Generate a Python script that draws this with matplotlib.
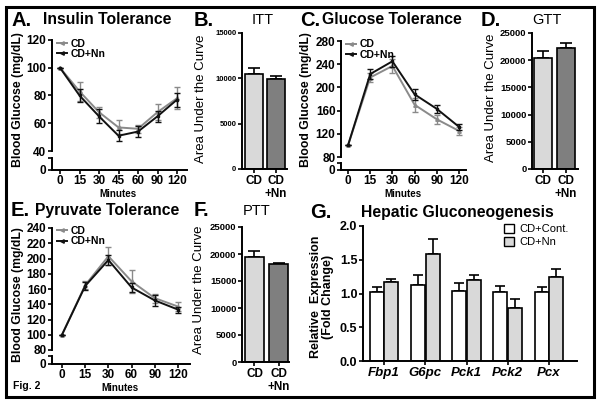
import matplotlib
matplotlib.use("Agg")
import matplotlib.pyplot as plt
from matplotlib.patches import Rectangle
from matplotlib.lines import Line2D
from matplotlib.patches import Patch

plt.rcParams['font.family'] = ['Liberation Sans', 'DejaVu Sans']

# ---------------- data ----------------
itt_minutes = ["0", "15", "30", "45", "60", "90", "120"]
itt_cd = [100, 83, 68, 57, 56, 68, 78]
itt_cd_err = [0, 7, 4, 5, 3, 6, 8]
itt_nn = [100, 80, 65, 51, 54, 65, 77]
itt_nn_err = [0, 5, 5, 4, 4, 4, 5]

gtt_minutes = ["0", "15", "30", "60", "90", "120"]
gtt_cd = [100, 217, 237, 170, 145, 125]
gtt_cd_err = [0, 8, 12, 12, 8, 7]
gtt_nn = [100, 223, 245, 188, 163, 132]
gtt_nn_err = [0, 9, 10, 10, 7, 5]

ptt_minutes = ["0", "15", "30", "60", "90", "120"]
ptt_cd = [100, 165, 203, 170, 148, 137]
ptt_cd_err = [0, 5, 12, 15, 6, 6]
ptt_nn = [100, 164, 198, 162, 145, 133]
ptt_nn_err = [0, 5, 6, 6, 7, 4]

bar_groups = ["CD", "CD\n+Nn"]
itt_auc = [10500, 9900]
itt_auc_err = [600, 400]
gtt_auc = [20400, 22200]
gtt_auc_err = [1200, 1000]
ptt_auc = [19400, 18200]
ptt_auc_err = [1200, 200]

genes = ["Fbp1", "G6pc", "Pck1", "Pck2", "Pcx"]
gene_cont = [1.02, 1.12, 1.04, 1.02, 1.02]
gene_cont_err = [0.08, 0.16, 0.11, 0.09, 0.08]
gene_nn = [1.17, 1.59, 1.20, 0.79, 1.24]
gene_nn_err = [0.05, 0.22, 0.07, 0.13, 0.13]

# ---------------- figure ----------------
W, H = 601, 404
fig = plt.figure(figsize=(W / 100, H / 100), dpi=100)

def ax_px(x0, y0, x1, y1):
    return fig.add_axes([x0 / W, 1 - y1 / H, (x1 - x0) / W, (y1 - y0) / H])

def ftext(x, y, s, **kw):
    fig.text(x / W, 1 - y / H, s, **kw)

GRAY = "#8a8a8a"
BLACK = "#111111"
BOLD = "bold"
LETTER_FS = 14.5
TITLE_FS = 11.3

def style(ax, xfs=8.5, yfs=8.5):
    for s in ("top", "right"):
        ax.spines[s].set_visible(False)
    for s in ("left", "bottom"):
        ax.spines[s].set_linewidth(1.4)
    ax.tick_params(width=1.2, length=3, pad=1)
    ax.tick_params(axis="x", labelsize=xfs)
    ax.tick_params(axis="y", labelsize=yfs)
    for lbl in ax.get_xticklabels() + ax.get_yticklabels():
        lbl.set_fontweight(BOLD)

def line_panel(xspine, xright, x0px, dx, ytop, ybot, yzero, ylo, yhi, yticks,
               labels, cd, cd_err, nn, nn_err, seg_h):
    n = len(labels)
    xs = list(range(n))
    xl = (xspine - x0px) / dx
    xr = (xright - x0px) / dx
    main = ax_px(xspine, ytop, xright, ybot)
    low = ax_px(xspine, yzero - seg_h, xright, yzero)
    main.errorbar(xs, cd, yerr=cd_err, color=GRAY, lw=1.4, capsize=2.2,
                  elinewidth=1.0, capthick=1.0, marker='^', ms=2.5, zorder=2)
    main.errorbar(xs, nn, yerr=nn_err, color=BLACK, lw=1.4, capsize=2.2,
                  elinewidth=1.0, capthick=1.0, marker='s', ms=2, zorder=3)
    main.set_ylim(ylo, yhi)
    main.set_xlim(xl, xr)
    main.set_yticks(yticks)
    main.set_xticks([])
    main.spines["bottom"].set_visible(False)
    style(main)
    low.set_xlim(xl, xr)
    low.set_ylim(0, 10)
    low.set_yticks([0, 10])
    low.set_yticklabels(["0", ""])
    low.set_xticks(xs)
    low.set_xticklabels(labels)
    style(low)
    low.tick_params(axis="x", pad=0.5)
    main.legend(handles=[Line2D([0], [0], color=GRAY, lw=1.4, marker='<', ms=2.5),
                         Line2D([0], [0], color=BLACK, lw=1.4, marker='<', ms=2.5)],
                labels=["CD", "CD+Nn"], loc="upper left", bbox_to_anchor=(0.0, 1.06),
                frameon=False, handlelength=0.9, handletextpad=0.35,
                labelspacing=0.05, borderaxespad=0.1,
                prop={"weight": "bold", "size": 7.5})
    return main, low

def bar_panel(xspine, xright, c0, dx, ytop, ybot, ymax, yticks, vals, errs, colors,
              tickfs, lab_x, lab_y):
    ax = ax_px(xspine, ytop, xright, ybot)
    xs = [0, 1]
    ax.bar(xs, vals, width=0.78, color=colors, edgecolor="black", linewidth=1.2, zorder=2)
    ax.errorbar(xs, vals, yerr=[[0, 0], errs], fmt="none", ecolor="black",
                elinewidth=1.2, capsize=4, capthick=1.2, zorder=1)
    ax.set_xlim((xspine - c0) / dx, (xright - c0) / dx)
    ax.set_ylim(0, ymax)
    ax.set_yticks(yticks)
    ax.set_xticks(xs)
    ax.set_xticklabels(bar_groups)
    style(ax, xfs=8.5, yfs=tickfs)
    ftext(lab_x, lab_y, "Area Under the Curve", fontsize=9.5, rotation=90,
          ha="center", va="center")
    return ax

# ---------- A ----------
line_panel(52, 187, 60, 19.5, 40, 151, 170, 40, 120, [40, 60, 80, 100, 120],
           itt_minutes, itt_cd, itt_cd_err, itt_nn, itt_nn_err, 12)
ftext(11, 20, "A.", fontsize=LETTER_FS, fontweight=BOLD, va="center")
ftext(43, 20, "Insulin Tolerance", fontsize=TITLE_FS, fontweight=BOLD, va="center")
ftext(18, 100, "Blood Glucose (mg/dL)", fontsize=8.8, fontweight=BOLD, rotation=90,
      va="center", ha="center")
ftext(118, 194, "Minutes", fontsize=7, fontweight=BOLD, ha="center", va="center")

# ---------- B ----------
bar_panel(242, 287, 254, 22, 33, 169, 15000, [0, 5000, 10000, 15000],
          itt_auc, itt_auc_err, ["#d9d9d9", "#7f7f7f"], 5.5, 201, 99)
ftext(194, 20, "B.", fontsize=LETTER_FS, fontweight=BOLD, va="center")
ftext(263, 20, "ITT", fontsize=10.5, ha="center", va="center")

# ---------- C ----------
line_panel(341, 466, 348, 22.2, 41, 157, 170, 80, 280, [80, 120, 160, 200, 240, 280],
           gtt_minutes, gtt_cd, gtt_cd_err, gtt_nn, gtt_nn_err, 7)
ftext(300, 20, "C.", fontsize=LETTER_FS, fontweight=BOLD, va="center")
ftext(322, 20, "Glucose Tolerance", fontsize=TITLE_FS, fontweight=BOLD, va="center")
ftext(306, 100, "Blood Glucose (mg/dL)", fontsize=8.8, fontweight=BOLD, rotation=90,
      va="center", ha="center")
ftext(403, 194, "Minutes", fontsize=7, fontweight=BOLD, ha="center", va="center")

# ---------- D ----------
bar_panel(532, 578, 543, 23, 33, 169, 25000, [0, 5000, 10000, 15000, 20000, 25000],
          gtt_auc, gtt_auc_err, ["#d9d9d9", "#7f7f7f"], 6.8, 491, 98)
ftext(481, 20, "D.", fontsize=LETTER_FS, fontweight=BOLD, va="center")
ftext(547, 20, "GTT", fontsize=10.5, ha="center", va="center")

# ---------- E ----------
line_panel(52, 190, 62, 23.2, 228, 350, 364, 80, 240,
           [80, 100, 120, 140, 160, 180, 200, 220, 240],
           ptt_minutes, ptt_cd, ptt_cd_err, ptt_nn, ptt_nn_err, 8)
ftext(11, 211, "E.", fontsize=LETTER_FS, fontweight=BOLD, va="center")
ftext(35, 211, "Pyruvate Tolerance", fontsize=TITLE_FS, fontweight=BOLD, va="center")
ftext(18, 295, "Blood Glucose (mg/dL)", fontsize=8.8, fontweight=BOLD, rotation=90,
      va="center", ha="center")
ftext(120, 388, "Minutes", fontsize=7, fontweight=BOLD, ha="center", va="center")
ftext(13, 386, "Fig. 2", fontsize=7.5, fontweight=BOLD, va="center")

# ---------- F ----------
bar_panel(242, 289, 254.5, 24, 227, 362, 25000, [0, 5000, 10000, 15000, 20000, 25000],
          ptt_auc, ptt_auc_err, ["#d9d9d9", "#7f7f7f"], 6.8, 199, 290)
ftext(194, 211, "F.", fontsize=LETTER_FS, fontweight=BOLD, va="center")
ftext(257, 211, "PTT", fontsize=10.5, ha="center", va="center")

# ---------- G ----------
axg = ax_px(363, 226, 577, 361)
dx = 41.25
gx = list(range(len(genes)))
bw = 0.34
xc = [i - bw / 2 - 0.01 for i in gx]
xn = [i + bw / 2 + 0.01 for i in gx]
axg.bar(xc, gene_cont, width=bw, color="white", edgecolor="black", linewidth=1.2, zorder=2)
axg.bar(xn, gene_nn, width=bw, color="#d9d9d9", edgecolor="black", linewidth=1.2, zorder=2)
axg.errorbar(xc, gene_cont, yerr=[[0] * len(genes), gene_cont_err], fmt="none",
             ecolor="black", elinewidth=1.2, capsize=3.5, capthick=1.2, zorder=1)
axg.errorbar(xn, gene_nn, yerr=[[0] * len(genes), gene_nn_err], fmt="none",
             ecolor="black", elinewidth=1.2, capsize=3.5, capthick=1.2, zorder=1)
axg.set_xlim((363 - 384) / dx, (577 - 384) / dx)
axg.set_ylim(0, 2.0)
axg.set_yticks([0.0, 0.5, 1.0, 1.5, 2.0])
axg.set_xticks(gx)
axg.set_xticklabels(genes)
style(axg, xfs=9.5, yfs=9)
for lbl in axg.get_xticklabels():
    lbl.set_fontstyle("italic")
ftext(322, 297, "Relative  Expression\n(Fold Change)", fontsize=9, fontweight=BOLD,
      rotation=90, ha="center", va="center", linespacing=1.0)
axg.legend(handles=[Patch(facecolor="white", edgecolor="black", lw=1.0),
                    Patch(facecolor="#d9d9d9", edgecolor="black", lw=1.0)],
           labels=["CD+Cont.", "CD+Nn"], loc="upper right", bbox_to_anchor=(1.01, 1.09),
           frameon=False, handlelength=0.9, handleheight=0.9, handletextpad=0.5,
           labelspacing=0.2, fontsize=8)
ftext(310, 212, "G.", fontsize=LETTER_FS, fontweight=BOLD, va="center")
ftext(457, 212, "Hepatic Gluconeogenesis", fontsize=TITLE_FS, fontweight=BOLD,
      ha="center", va="center")

# outer border
fig.add_artist(Rectangle((6 / W, 1 - 397 / H), (594 - 6) / W, (397 - 7) / H,
                         transform=fig.transFigure, fill=False, edgecolor="black",
                         linewidth=2.2))

fig.savefig("out.png", dpi=100)
